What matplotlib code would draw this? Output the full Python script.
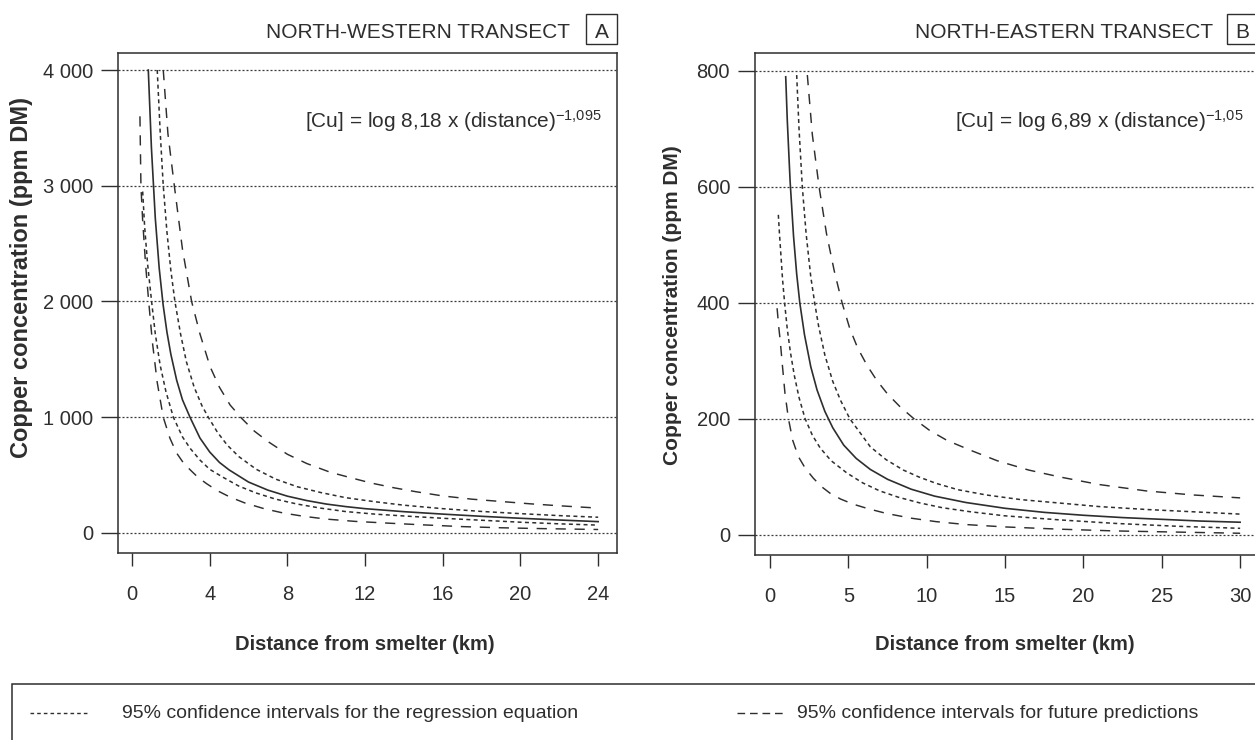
import matplotlib
matplotlib.use("Agg")
import matplotlib.pyplot as plt
from matplotlib.patches import Rectangle
from matplotlib.lines import Line2D

plt.rcParams["font.family"] = ["Liberation Sans", "DejaVu Sans"]
plt.rcParams["mathtext.fontset"] = "custom"
plt.rcParams["mathtext.rm"] = "Liberation Sans"
plt.rcParams["mathtext.it"] = "Liberation Sans:italic"

# ---- panel A: north-western transect ----
a_fit_x = [0.84, 1.0, 1.2, 1.4, 1.6, 1.8, 2.0, 2.3, 2.6, 3.0, 3.5, 4.0, 4.5, 5.0, 6.0,
           7.0, 8.0, 9.0, 10, 11, 12, 14, 16, 18, 20, 22, 24]
a_fit_y = [4000, 3330, 2720, 2290, 1975, 1735, 1545, 1320, 1150, 995, 820, 700, 610, 545, 440,
           370, 318, 280, 250, 228, 210, 184, 163, 144, 127, 112, 98]
a_reg_hi_x = [1.30, 1.45, 1.61, 1.8, 2.0, 2.21, 2.5, 2.8, 3.2, 3.6, 3.93, 4.4, 4.9, 5.5, 6.4,
              7.4, 8.5, 9.7, 11, 12.5, 14, 16, 18, 20, 22, 24]
a_reg_hi_y = [4000, 3470, 3000, 2600, 2270, 2000, 1720, 1480, 1260, 1100, 1000, 870, 760, 660, 550,
              465, 400, 350, 305, 270, 240, 210, 186, 167, 150, 136]
a_reg_lo_x = [0.55, 0.65, 0.8, 1.01, 1.2, 1.45, 1.75, 2.13, 2.6, 3.0, 3.5, 4.0, 4.7, 5.5, 6.4,
              7.4, 8.5, 9.7, 11, 12.5, 14, 16, 18, 20, 22, 24]
a_reg_lo_y = [2950, 2650, 2330, 2000, 1720, 1450, 1220, 1000, 830, 730, 630, 550, 480, 405, 345,
              292, 250, 215, 185, 163, 147, 127, 110, 93, 79, 68]
a_pred_hi_x = [1.61, 1.85, 2.18, 2.6, 3.07, 3.5, 4.02, 4.5, 5.05, 5.65, 6.3, 7.0, 8.0, 9.0, 10.2,
               11.2, 12.3, 13.5, 14.6, 16, 17.5, 19, 20.5, 22, 24]
a_pred_hi_y = [4000, 3450, 3000, 2450, 2000, 1720, 1437, 1260, 1106, 990, 880, 790, 680, 600, 525,
               480, 432, 390, 357, 320, 292, 272, 252, 235, 215]
a_pred_lo_x = [0.41, 0.46, 0.55, 0.7, 0.86, 1.05, 1.3, 1.61, 1.95, 2.3, 2.65, 3.0, 3.4, 3.85, 4.4,
               5.05, 5.8, 6.8, 7.8, 8.8, 10, 11.5, 13.3, 15, 17, 19, 21, 24]
a_pred_lo_y = [3600, 3000, 2700, 2320, 2000, 1650, 1300, 1000, 820, 690, 605, 545, 480, 425, 365,
               310, 260, 210, 172, 145, 120, 100, 84, 70, 55, 45, 38, 30]
a_xticks = [0, 4, 8, 12, 16, 20, 24]
a_yticks = [0, 1000, 2000, 3000, 4000]
a_ylabels = ["0", "1 000", "2 000", "3 000", "4 000"]

# ---- panel B: north-eastern transect ----
b_fit_x = [1.0, 1.1, 1.28, 1.5, 1.7, 1.9, 2.2, 2.6, 3.0, 3.5, 4.0, 4.7, 5.5, 6.4, 7.5, 9.0,
           10.5, 12.5, 15, 17.5, 20, 22.5, 25, 27.5, 30]
b_fit_y = [790, 715, 610, 515, 450, 400, 345, 290, 250, 213, 185, 155, 132, 113, 96, 79,
           67, 56, 46, 39, 34, 30, 27, 24, 22]
b_reg_hi_x = [1.7, 1.85, 2.06, 2.3, 2.6, 2.85, 3.1, 3.5, 4.0, 4.5, 5.1, 5.7, 6.4, 7.4, 8.5,
              9.5, 10.6, 12, 13.8, 16, 18.5, 21, 24, 27, 30]
b_reg_hi_y = [793, 700, 600, 520, 445, 400, 360, 310, 265, 232, 200, 178, 152, 130, 112,
              100, 89, 78, 69, 61, 55, 49, 44, 40, 36]
b_reg_lo_x = [0.53, 0.6, 0.7, 0.8, 0.93, 1.1, 1.3, 1.55, 1.85, 2.23, 2.7, 3.2, 3.9, 4.9, 5.9,
              7.0, 8.2, 9.6, 11, 12.8, 15, 18.5, 22, 26, 30]
b_reg_lo_y = [552, 520, 480, 440, 400, 355, 315, 275, 237, 201, 172, 150, 128, 107, 90,
              76, 65, 55, 47, 40, 33, 26, 20, 15, 11.5]
b_pred_hi_x = [2.38, 2.7, 3.13, 3.6, 4.1, 4.6, 5.1, 5.6, 6.2, 6.8, 7.5, 8.3, 9.2, 10.2, 11.3,
               12.8, 14.5, 16.5, 18.5, 21, 24, 27, 30]
b_pred_hi_y = [793, 690, 600, 520, 455, 400, 355, 322, 292, 267, 243, 221, 200, 180, 163,
               146, 128, 112, 100, 87, 76, 69, 64]
b_pred_lo_x = [0.45, 0.55, 0.65, 0.78, 0.95, 1.17, 1.45, 1.81, 2.25, 2.76, 3.3, 3.83, 4.5, 5.32,
               6.3, 7.45, 9.0, 10.6, 12.5, 14.9, 18.5, 22, 26, 30]
b_pred_lo_y = [391, 360, 335, 295, 245, 201, 163, 135, 115, 98, 83, 72, 62, 53,
               45, 37, 29, 23, 18, 14, 10, 7, 5, 3]
b_xticks = [0, 5, 10, 15, 20, 25, 30]
b_yticks = [0, 200, 400, 600, 800]
b_ylabels = ["0", "200", "400", "600", "800"]

INK = "#2e2e2e"
W, H = 1255, 740
SHORT = (0, (2.6, 2.2))
LONG = (0, (7, 6))


def fx(px):
    return px / W


def fy(py):
    return 1 - py / H


def style_axes(ax, xticks, yticks, ylabels):
    for sp in ax.spines.values():
        sp.set_color(INK)
        sp.set_linewidth(1.1)
    ax.set_xticks(xticks)
    ax.set_yticks(yticks)
    ax.set_yticklabels(ylabels)
    ax.tick_params(axis="both", direction="out", colors=INK, labelsize=14.5, width=1.0)
    ax.tick_params(axis="x", length=9.5, pad=13.5)
    ax.tick_params(axis="y", length=12.5, pad=5.5)
    ax.yaxis.grid(True, linestyle=(0, (1.6, 1.6)), color="#3a3a3a", lw=0.9)
    ax.set_axisbelow(True)


def draw_curves(ax, fit, reg_lo, reg_hi, pred_lo, pred_hi):
    ax.plot(*fit, color=INK, lw=1.2, ls="-")
    for c in (reg_lo, reg_hi):
        ax.plot(*c, color=INK, lw=1.1, ls=SHORT)
    for c in (pred_lo, pred_hi):
        ax.plot(*c, color=INK, lw=1.05, ls=LONG)


fig = plt.figure(figsize=(12.55, 7.40), dpi=100)

axA = fig.add_axes([fx(118), fy(553), fx(617) - fx(118), fy(53) - fy(553)])
draw_curves(axA, (a_fit_x, a_fit_y), (a_reg_lo_x, a_reg_lo_y), (a_reg_hi_x, a_reg_hi_y),
            (a_pred_lo_x, a_pred_lo_y), (a_pred_hi_x, a_pred_hi_y))
style_axes(axA, a_xticks, a_yticks, a_ylabels)
axA.set_xlim(-0.72, 24.97)
axA.set_ylim(-173, 4147)

axB = fig.add_axes([fx(755), fy(555), fx(1258) - fx(755), fy(53) - fy(555)])
draw_curves(axB, (b_fit_x, b_fit_y), (b_reg_lo_x, b_reg_lo_y), (b_reg_hi_x, b_reg_hi_y),
            (b_pred_lo_x, b_pred_lo_y), (b_pred_hi_x, b_pred_hi_y))
style_axes(axB, b_xticks, b_yticks, b_ylabels)
axB.set_xlim(-0.96, 31.14)
axB.set_ylim(-34.5, 831)

# axis labels
fig.text(fx(22), fy(278), "Copper concentration (ppm DM)", rotation=90, ha="center", va="center",
         fontsize=17, fontweight="bold", color=INK)
fig.text(fx(672), fy(305), "Copper concentration (ppm DM)", rotation=90, ha="center", va="center",
         fontsize=15, fontweight="bold", color=INK)
fig.text(fx(365), fy(645), "Distance from smelter (km)", ha="center", va="center",
         fontsize=14.5, fontweight="bold", color=INK)
fig.text(fx(1005), fy(645), "Distance from smelter (km)", ha="center", va="center",
         fontsize=14.5, fontweight="bold", color=INK)

# panel titles with boxed letters
fig.text(fx(570), fy(38), "NORTH-WESTERN TRANSECT", ha="right", va="baseline", fontsize=15, color=INK)
fig.add_artist(Rectangle((fx(586), fy(44)), 31 / W, 30 / H, transform=fig.transFigure,
                         fill=False, ec=INK, lw=1.0))
fig.text(fx(601.5), fy(38), "A", ha="center", va="baseline", fontsize=15, color=INK)
fig.text(fx(1213), fy(38), "NORTH-EASTERN TRANSECT", ha="right", va="baseline", fontsize=15, color=INK)
fig.add_artist(Rectangle((fx(1227), fy(44)), 31 / W, 30 / H, transform=fig.transFigure,
                         fill=False, ec=INK, lw=1.0))
fig.text(fx(1242), fy(38), "B", ha="center", va="baseline", fontsize=15, color=INK)

# regression equations
fig.text(fx(602), fy(128), r"[Cu] = log 8,18 x (distance)$^{\mathrm{-1{,}095}}$",
         ha="right", va="baseline", fontsize=15, color=INK)
fig.text(fx(1244), fy(128), r"[Cu] = log 6,89 x (distance)$^{\mathrm{-1{,}05}}$",
         ha="right", va="baseline", fontsize=15, color=INK)

# legend box along the bottom
fig.add_artist(Rectangle((fx(12), fy(800)), 1300 / W, 116 / H, transform=fig.transFigure,
                         fill=False, ec=INK, lw=1.1))
fig.add_artist(Line2D([fx(30), fx(88)], [fy(713), fy(713)], transform=fig.transFigure,
                      color=INK, lw=1.0, ls=SHORT))
fig.text(fx(122), fy(713), "95% confidence intervals for the regression equation",
         ha="left", va="center", fontsize=14, color=INK)
fig.add_artist(Line2D([fx(737), fx(785)], [fy(713), fy(713)], transform=fig.transFigure,
                      color=INK, lw=1.0, ls=(0, (5.5, 3.5))))
fig.text(fx(797), fy(713), "95% confidence intervals for future predictions",
         ha="left", va="center", fontsize=14, color=INK)

fig.savefig("out.png", dpi=100)
